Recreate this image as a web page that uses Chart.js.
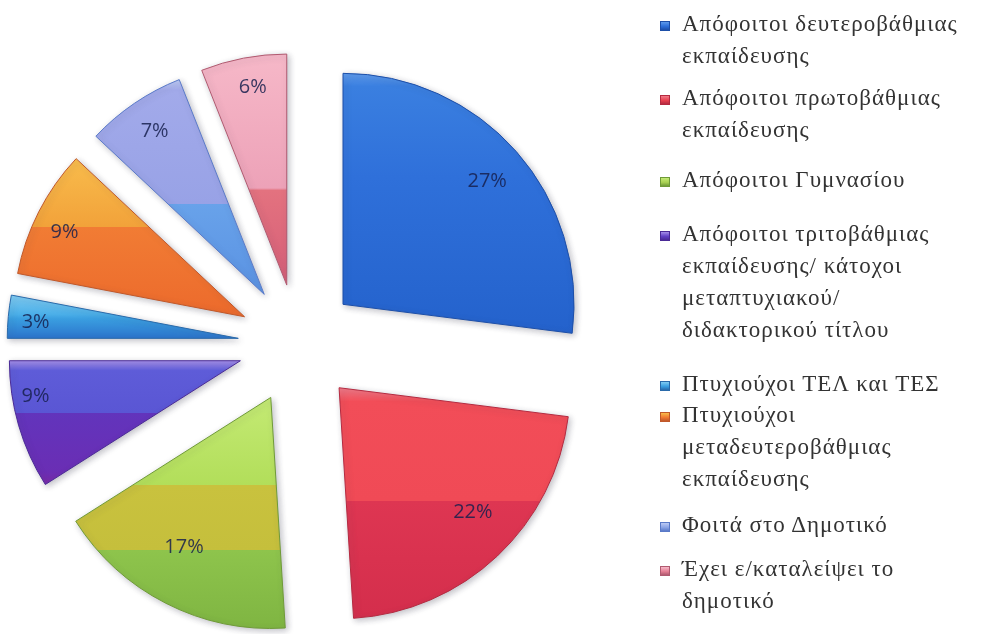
<!DOCTYPE html>
<html>
<head>
<meta charset="utf-8">
<script src="https://cdn.jsdelivr.net/npm/chart.js@4.4.1/dist/chart.umd.min.js"></script>
<style>
  html, body { margin: 0; padding: 0; background: #ffffff; }
  #wrap { position: relative; width: 987px; height: 634px; overflow: hidden; background: #fff; }
  #c { position: absolute; left: 0; top: 0; }
  #legend {
    position: absolute; left: 658px; top: 8px; width: 329px;
    font-family: "Liberation Serif", "DejaVu Serif", serif;
    font-size: 23px; line-height: 32px; color: #333333; letter-spacing: 1px;
  }
  .item { position: relative; padding-left: 24px; white-space: nowrap; }
  .box { position: absolute; left: 2px; top: 13px; width: 10px; height: 10px; }
</style>
</head>
<body>
<div id="wrap">
  <canvas id="c" width="987" height="634"></canvas>
  <div id="legend"></div>
</div>
<script>
// ---------- data ----------
const categories = [
  ["Απόφοιτοι δευτεροβάθμιας", "εκπαίδευσης"],
  ["Απόφοιτοι πρωτοβάθμιας", "εκπαίδευσης"],
  ["Απόφοιτοι Γυμνασίου"],
  ["Απόφοιτοι τριτοβάθμιας", "εκπαίδευσης/ κάτοχοι", "μεταπτυχιακού/", "διδακτορικού τίτλου"],
  ["Πτυχιούχοι ΤΕΛ και ΤΕΣ"],
  ["Πτυχιούχοι", "μεταδευτεροβάθμιας", "εκπαίδευσης"],
  ["Φοιτά στο Δημοτικό"],
  ["Έχει ε/καταλείψει το", "δημοτικό"]
];
const values = [27, 22, 17, 9, 3, 9, 7, 6];
const percentLabels = ["27%", "22%", "17%", "9%", "3%", "9%", "7%", "6%"];

// ---------- styles ----------
const baseColors = ["#2c6ed8", "#e8404f", "#a8d052", "#6040c4", "#3a9ee0", "#f07a32", "#8aa4e6", "#e57f95"];
const edgeColors = ["#1d4fa8", "#b42a40", "#6f9a38", "#4a2a96", "#2a6aaa", "#c0582a", "#5a7ac8", "#b05a70"];
const bandStops = [
  [[0, "#5d9aec"], [0.05, "#3a7fe0"], [0.4, "#2f70da"], [1, "#2462cc"]],
  [[0, "#f07a88"], [0.06, "#f24d58"], [0.49, "#f04a56"], [0.49, "#de3652"], [1, "#d42e4c"]],
  [[0, "#c4ea74"], [0.38, "#b2de5a"], [0.38, "#c9c23e"], [0.66, "#c5bf3c"], [0.66, "#8ec44c"], [1, "#7fb542"]],
  [[0, "#a48ee8"], [0.08, "#5e5cd8"], [0.42, "#5a56d4"], [0.42, "#6234bc"], [0.9, "#6a2eb4"], [1, "#7a2aa6"]],
  [[0, "#80ccf2"], [0.45, "#4aaee8"], [0.55, "#3a9ee0"], [1, "#2b74cc"]],
  [[0, "#f8bc4c"], [0.43, "#f2a23a"], [0.43, "#f17c34"], [1, "#ec6a2c"]],
  [[0, "#bccaf4"], [0.05, "#a2aaea"], [0.58, "#98a2e6"], [0.58, "#68a2ea"], [1, "#5a92e2"]],
  [[0, "#f6b8c8"], [0.58, "#eda2b8"], [0.59, "#e3727f"], [1, "#d65f78"]]
];
const labelPlacement = [[0.82, 0.51], [0.79, 0.45], [0.75, 0.55], [0.90, 0.70], [0.88, 0.42], [0.86, 0.44], [0.85, 0.51], [0.87, 0.55]];
const legendGapBefore = [0, 10, 18, 22, 22, -1, 14, 12];
const EXPLODE = 60;
const RADIUS = 231;

function sliceGradient(ctx, arc, stops) {
  const r = arc.outerRadius;
  const a0 = arc.startAngle, a1 = arc.endAngle;
  const ys = [arc.y, arc.y + Math.sin(a0) * r, arc.y + Math.sin(a1) * r];
  for (let k = -4; k <= 8; k++) {
    const a = k * Math.PI / 2;
    if (a > a0 && a < a1) ys.push(arc.y + Math.sin(a) * r);
  }
  const top = Math.min(...ys), bot = Math.max(...ys);
  const g = ctx.createLinearGradient(0, top, 0, bot);
  stops.forEach(([o, c]) => g.addColorStop(o, c));
  return g;
}

const explodePlugin = {
  id: 'explodeSlices',
  afterDatasetsUpdate(chart) {
    const meta = chart.getDatasetMeta(0);
    meta.data.forEach((arc, i) => {
      const mid = (arc.startAngle + arc.endAngle) / 2;
      arc.x += Math.cos(mid) * EXPLODE;
      arc.y += Math.sin(mid) * EXPLODE;
      try { arc.options.backgroundColor = sliceGradient(chart.ctx, arc, bandStops[i]); } catch (e) {}
    });
  },
  beforeDatasetsDraw(chart) {
    const ctx = chart.ctx;
    ctx.save();
    ctx.shadowColor = 'rgba(60,60,80,0.32)';
    ctx.shadowBlur = 6;
    ctx.shadowOffsetX = 2;
    ctx.shadowOffsetY = 2;
  },
  afterDatasetsDraw(chart) {
    const ctx = chart.ctx;
    ctx.restore();
    const meta = chart.getDatasetMeta(0);
    ctx.save();
    ctx.font = '20px "Open Sans", "Liberation Sans", sans-serif';
    ctx.textAlign = 'center';
    ctx.textBaseline = 'middle';
    ctx.fillStyle = 'rgba(22,32,78,0.85)';
    meta.data.forEach((arc, i) => {
      const [rf, af] = labelPlacement[i];
      const a = arc.startAngle + (arc.endAngle - arc.startAngle) * af;
      const r = arc.outerRadius * rf;
      ctx.fillText(percentLabels[i], arc.x + Math.cos(a) * r, arc.y + Math.sin(a) * r);
    });
    ctx.restore();
  }
};

const chart = new Chart(document.getElementById('c'), {
  type: 'pie',
  data: {
    labels: categories.map(l => l.join(' ')),
    datasets: [{
      data: values,
      backgroundColor: baseColors,
      borderColor: edgeColors,
      borderWidth: 1,
      offset: 0,
      hoverOffset: 0,
      radius: RADIUS,
      clip: false
    }]
  },
  options: {
    responsive: false,
    animation: false,
    events: [],
    layout: { padding: { left: 0, right: 391, top: 54, bottom: 0 } },
    plugins: { legend: { display: false }, tooltip: { enabled: false } }
  },
  plugins: [explodePlugin]
});

// ---------- HTML legend built from chart data ----------
const legend = document.getElementById('legend');
categories.forEach((lines, i) => {
  const item = document.createElement('div');
  item.className = 'item';
  item.style.marginTop = legendGapBefore[i] + 'px';
  const box = document.createElement('span');
  box.className = 'box';
  box.style.background = 'linear-gradient(to bottom, ' + bandStops[i][0][1] + ', ' + baseColors[i] + ' 55%, ' + edgeColors[i] + ')';
  box.style.border = '1px solid ' + edgeColors[i];
  box.style.boxSizing = 'border-box';
  item.appendChild(box);
  lines.forEach((t, k) => {
    if (k) item.appendChild(document.createElement('br'));
    item.appendChild(document.createTextNode(t));
  });
  legend.appendChild(item);
});
</script>
</body>
</html>
